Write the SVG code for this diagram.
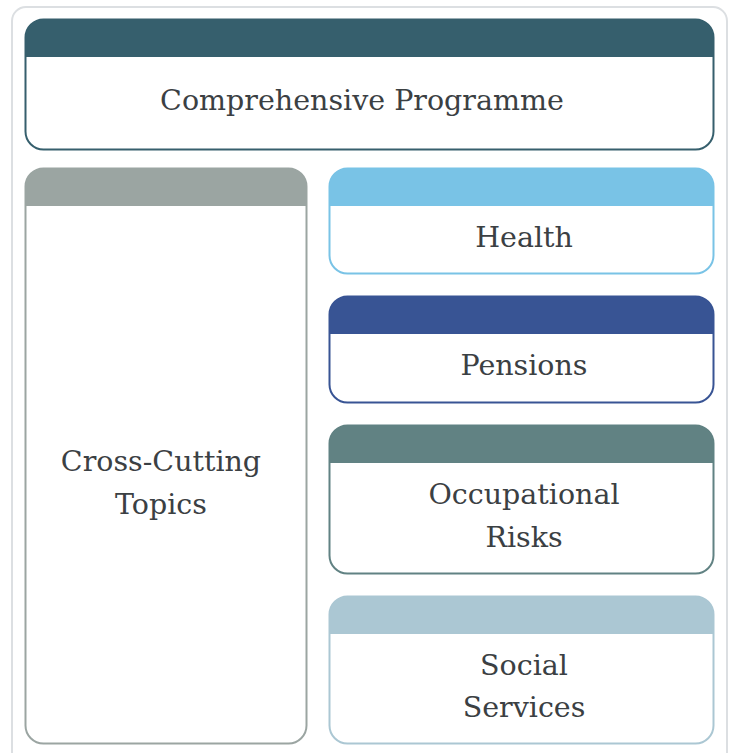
<svg xmlns="http://www.w3.org/2000/svg" width="733" height="753" viewBox="0 0 733 753">
<style>
.lbl{font-family:"DejaVu Serif","Liberation Serif",serif;font-size:28.5px;fill:#3b4043;text-anchor:middle}
.box{fill:#fff;stroke-width:2}
</style>
<rect width="733" height="753" fill="#fff"/>
<rect x="12" y="7" width="715" height="760" rx="14" fill="#fff" stroke="#dcdfe2" stroke-width="2"/>
<g id="programme">
<rect class="box" x="25.5" y="19.5" width="688" height="130" rx="18" stroke="#365f6d"/>
<path d="M25.5 57 V37.5 A18 18 0 0 1 43.5 19.5 H695.5 A18 18 0 0 1 713.5 37.5 V57 Z" fill="#365f6d"/>
<text class="lbl" x="362" y="110">Comprehensive Programme</text>
</g>
<g id="crosscutting">
<rect class="box" x="25.5" y="168.5" width="281" height="575" rx="18" stroke="#9ba5a2"/>
<path d="M25.5 206 V186.5 A18 18 0 0 1 43.5 168.5 H288.5 A18 18 0 0 1 306.5 186.5 V206 Z" fill="#9ba5a2"/>
<text class="lbl" x="161" y="471">Cross-Cutting</text>
<text class="lbl" x="161" y="514">Topics</text>
</g>
<g id="health">
<rect class="box" x="329.5" y="168.5" width="384" height="105" rx="18" stroke="#79c3e6"/>
<path d="M329.5 206 V186.5 A18 18 0 0 1 347.5 168.5 H695.5 A18 18 0 0 1 713.5 186.5 V206 Z" fill="#79c3e6"/>
<text class="lbl" x="524" y="247">Health</text>
</g>
<g id="pensions">
<rect class="box" x="329.5" y="296.5" width="384" height="106" rx="18" stroke="#385494"/>
<path d="M329.5 334 V314.5 A18 18 0 0 1 347.5 296.5 H695.5 A18 18 0 0 1 713.5 314.5 V334 Z" fill="#385494"/>
<text class="lbl" x="524" y="375">Pensions</text>
</g>
<g id="occupational">
<rect class="box" x="329.5" y="425.5" width="384" height="148" rx="18" stroke="#618283"/>
<path d="M329.5 463 V443.5 A18 18 0 0 1 347.5 425.5 H695.5 A18 18 0 0 1 713.5 443.5 V463 Z" fill="#618283"/>
<text class="lbl" x="524" y="504">Occupational</text>
<text class="lbl" x="524" y="547">Risks</text>
</g>
<g id="social">
<rect class="box" x="329.5" y="596.5" width="384" height="147" rx="18" stroke="#abc7d3"/>
<path d="M329.5 634 V614.5 A18 18 0 0 1 347.5 596.5 H695.5 A18 18 0 0 1 713.5 614.5 V634 Z" fill="#abc7d3"/>
<text class="lbl" x="524" y="675">Social</text>
<text class="lbl" x="524" y="717">Services</text>
</g>
<g id="connectors"></g>
</svg>
